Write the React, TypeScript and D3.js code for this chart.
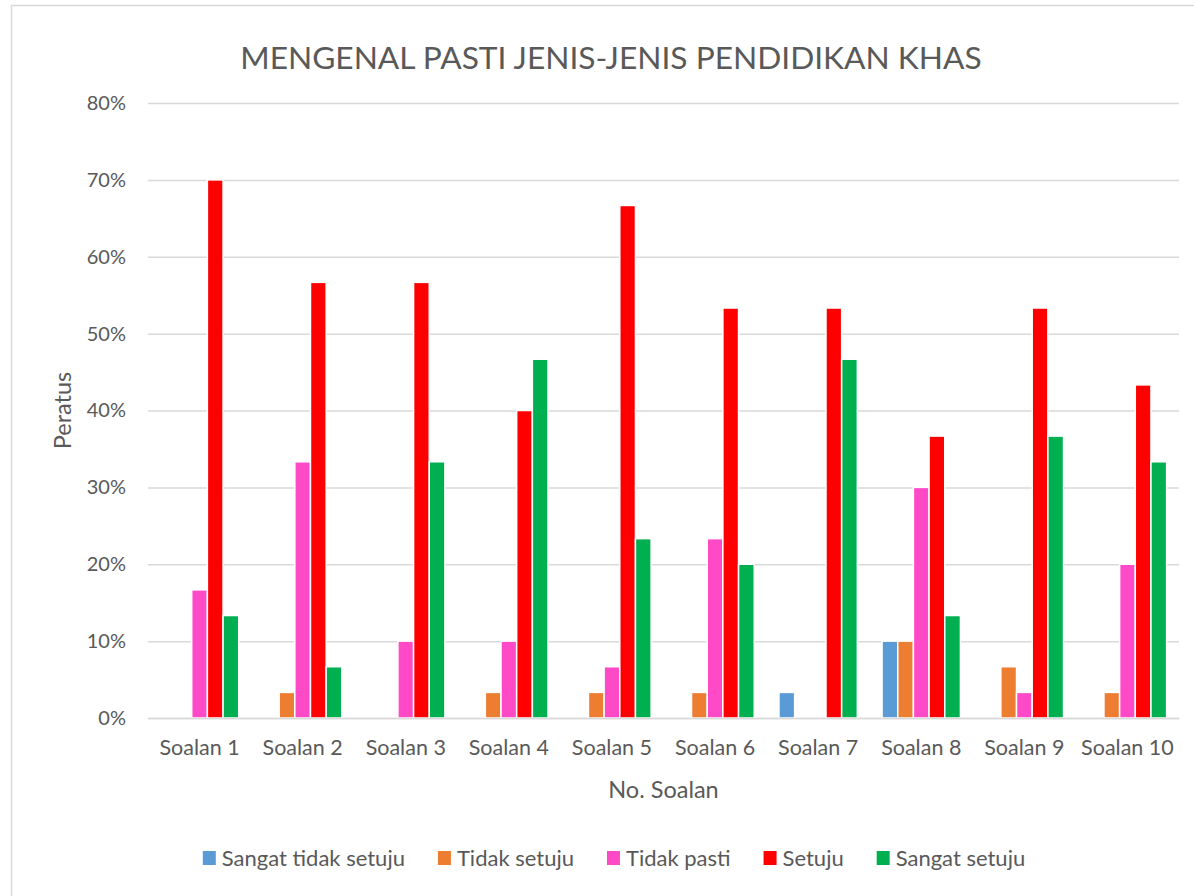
import React, { useEffect, useRef } from 'react';
import * as d3 from 'd3';

// question labels on the x axis
const categories = ['Soalan 1', 'Soalan 2', 'Soalan 3', 'Soalan 4', 'Soalan 5', 'Soalan 6', 'Soalan 7', 'Soalan 8', 'Soalan 9', 'Soalan 10'];

// response scale (legend order)
const seriesNames = ['Sangat tidak setuju', 'Tidak setuju', 'Tidak pasti', 'Setuju', 'Sangat setuju'];
const seriesColors = ['#5B9BD5', '#ED7D31', '#FF4AC8', '#FF0000', '#00B050'];

// percentages per question, one array per response
const sangatTidakSetuju = [0, 0, 0, 0, 0, 0, 3.33, 10, 0, 0];
const tidakSetuju = [0, 3.33, 0, 3.33, 3.33, 3.33, 0, 10, 6.67, 3.33];
const tidakPasti = [16.67, 33.33, 10, 10, 6.67, 23.33, 0, 30, 3.33, 20];
const setuju = [70, 56.67, 56.67, 40, 66.67, 53.33, 53.33, 36.67, 53.33, 43.33];
const sangatSetuju = [13.33, 6.67, 33.33, 46.67, 23.33, 20, 46.67, 13.33, 36.67, 33.33];

const yTicks = [0, 10, 20, 30, 40, 50, 60, 70, 80];

const FONT = 'Lato, "Open Sans", sans-serif';
const TEXT = '#595959';

const App = () => {
  const ref = useRef<SVGSVGElement>(null);

  useEffect(() => {
    const W = 1194;
    const H = 896;
    const margin = { top: 103, right: 15, bottom: 178, left: 148 };
    const values = [sangatTidakSetuju, tidakSetuju, tidakPasti, setuju, sangatSetuju];

    const svg = d3.select(ref.current);
    svg.selectAll('*').remove();

    // chart frame
    svg.append('rect')
      .attr('x', 11.5).attr('y', 5.5)
      .attr('width', W).attr('height', H)
      .attr('fill', '#fff').attr('stroke', '#D9D9D9').attr('stroke-width', 1.5);

    const x0 = d3.scaleBand().domain(categories).range([margin.left, W - margin.right]).paddingInner(0.24).paddingOuter(0.12);
    const x1 = d3.scaleBand().domain(seriesNames).range([0, x0.bandwidth()]);
    const y = d3.scaleLinear().domain([0, 80]).range([H - margin.bottom, margin.top]);

    svg.append('text')
      .attr('x', 611)
      .attr('y', 69)
      .attr('text-anchor', 'middle')
      .style('font-family', FONT)
      .style('font-size', '31.7px')
      .attr('fill', TEXT)
      .text('MENGENAL PASTI JENIS-JENIS PENDIDIKAN KHAS');

    // gridlines + y labels
    const yAxis = svg.append('g')
      .attr('transform', `translate(${margin.left},0)`)
      .call(d3.axisLeft(y).tickValues(yTicks).tickSize(-(W - margin.right - margin.left)).tickPadding(22).tickFormat((d) => `${d}%`));
    yAxis.select('.domain').remove();
    yAxis.selectAll('line').attr('stroke', '#D9D9D9').attr('stroke-width', 1.5);
    yAxis.selectAll('text').attr('fill', TEXT).style('font-family', FONT).style('font-size', '20px');

    const groups = svg.append('g')
      .selectAll('g')
      .data(categories)
      .enter()
      .append('g')
      .attr('transform', (d) => `translate(${x0(d)},0)`);

    groups.selectAll('rect')
      .data((_, i) => seriesNames.map((s, k) => ({ s, k, v: values[k][i] })))
      .enter()
      .filter((d) => d.v > 0)
      .append('rect')
      .attr('x', (d) => x1(d.s))
      .attr('width', x1.bandwidth())
      .attr('y', (d) => y(d.v))
      .attr('height', (d) => y(0) - y(d.v))
      .attr('fill', (d) => seriesColors[d.k])
      .attr('stroke', '#fff')
      .attr('stroke-width', 1.5);

    // x axis
    const xAxis = svg.append('g')
      .attr('transform', `translate(0,${y(0)})`)
      .call(d3.axisBottom(x0).tickSize(0).tickPadding(22));
    xAxis.select('.domain').attr('stroke', '#D9D9D9').attr('stroke-width', 1.5);
    xAxis.selectAll('text').attr('fill', TEXT).style('font-family', FONT).style('font-size', '21.5px');

    svg.append('text')
      .attr('x', (margin.left + W - margin.right) / 2)
      .attr('y', 798)
      .attr('text-anchor', 'middle')
      .style('font-family', FONT)
      .style('font-size', '23.5px')
      .attr('fill', TEXT)
      .text('No. Soalan');

    svg.append('text')
      .attr('transform', `translate(71,${(y(0) + y(80)) / 2}) rotate(-90)`)
      .attr('text-anchor', 'middle')
      .style('font-family', FONT)
      .style('font-size', '23.5px')
      .attr('fill', TEXT)
      .text('Peratus');

    // legend, laid out by measured text width
    const legend = svg.append('g');
    let cx = 0;
    seriesNames.forEach((name, k) => {
      const item = legend.append('g').attr('transform', `translate(${cx},0)`);
      item.append('rect').attr('x', 0).attr('y', -7).attr('width', 13).attr('height', 14).attr('fill', seriesColors[k]);
      const t = item.append('text')
        .attr('x', 19).attr('y', 8)
        .style('font-family', FONT)
        .style('font-size', '22px')
        .attr('fill', TEXT)
        .text(name);
      const tw = (t.node() as SVGTextElement).getComputedTextLength();
      cx += 19 + tw + 33;
    });
    const legendW = cx - 33;
    legend.attr('transform', `translate(${614 - legendW / 2},858)`);
  }, []);

  return <svg ref={ref} width={1194} height={896} style={{ display: 'block', position: 'absolute', left: 0, top: 0 }} />;
};

export default App;
